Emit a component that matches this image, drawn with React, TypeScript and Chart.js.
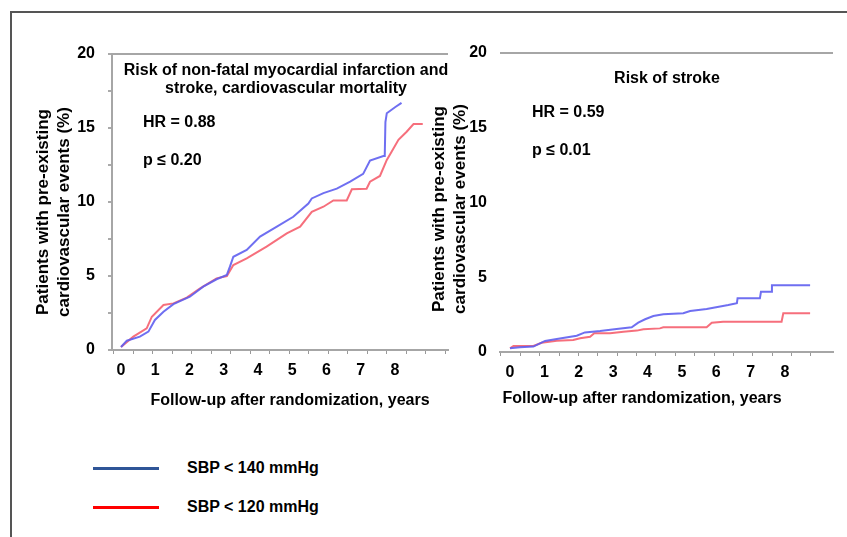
import React, { useEffect, useRef } from "react";
import { Chart, registerables } from "chart.js";

Chart.register(...registerables);

// ---------- data (years of follow-up, % patients with events) ----------
const LEFT_BLUE_X = [0, 0.17, 0.55, 0.8, 0.99, 1.24, 1.53, 2.01, 2.4, 2.79, 3.09, 3.18, 3.28, 3.67, 4.06, 4.55, 5.03, 5.47, 5.57, 5.91, 6.3, 6.69, 7.07, 7.27, 7.66, 7.7, 7.72, 7.76, 8.0, 8.19];
const LEFT_BLUE_Y = [0.2, 0.63, 0.9, 1.24, 2.03, 2.59, 3.1, 3.6, 4.28, 4.78, 5.07, 5.63, 6.3, 6.76, 7.66, 8.33, 9.0, 9.9, 10.24, 10.6, 10.9, 11.37, 11.9, 12.8, 13.1, 13.1, 15.4, 16.0, 16.4, 16.7];

const LEFT_RED_X = [0, 0.36, 0.75, 0.9, 1.24, 1.53, 1.92, 2.31, 2.79, 3.09, 3.28, 3.67, 4.25, 4.84, 5.23, 5.57, 5.91, 6.2, 6.59, 6.74, 7.17, 7.27, 7.56, 7.76, 7.9, 8.1, 8.34, 8.54, 8.81];
const LEFT_RED_Y = [0.2, 0.9, 1.46, 2.25, 3.04, 3.15, 3.54, 4.17, 4.84, 5.0, 5.74, 6.19, 6.98, 7.88, 8.33, 9.34, 9.68, 10.1, 10.1, 10.86, 10.9, 11.37, 11.76, 12.84, 13.4, 14.2, 14.75, 15.27, 15.27];

const RIGHT_BLUE_X = [0, 0.29, 0.68, 1.02, 1.36, 1.94, 2.18, 2.62, 3.1, 3.54, 3.73, 3.93, 4.17, 4.46, 5.04, 5.24, 5.72, 6.35, 6.6, 6.62, 7.27, 7.3, 7.6, 7.62, 8.73];
const RIGHT_BLUE_Y = [0.25, 0.31, 0.36, 0.74, 0.87, 1.09, 1.31, 1.4, 1.54, 1.65, 1.96, 2.19, 2.41, 2.52, 2.59, 2.74, 2.88, 3.14, 3.26, 3.59, 3.59, 4.03, 4.03, 4.46, 4.46];

const RIGHT_RED_X = [0, 0.1, 0.68, 0.92, 1.36, 1.84, 2.04, 2.33, 2.45, 2.91, 3.3, 3.69, 3.88, 4.36, 4.46, 5.72, 5.87, 6.2, 7.9, 7.95, 8.73];
const RIGHT_RED_Y = [0.25, 0.4, 0.4, 0.62, 0.76, 0.8, 0.92, 1.02, 1.25, 1.25, 1.36, 1.43, 1.52, 1.58, 1.65, 1.65, 1.96, 2.03, 2.03, 2.59, 2.59];

const X_LABELS = [0, 1, 2, 3, 4, 5, 6, 7, 8];
const Y_TICKS_LEFT = [0, 2.5, 5, 7.5, 10, 12.5, 15, 17.5, 20];
const Y_TICKS_RIGHT = [0, 5, 10, 15, 20];
const TICK_MARKS_LEFT = [0, 1, 2, 3, 4, 5, 6, 7, 8, 9, 10, 11, 12, 13, 14, 15, 16, 17];
const TICK_MARKS_RIGHT = [0, 1, 2, 3, 4, 5, 6, 7, 8, 9, 10, 11, 12, 13, 14, 15, 16];

const SERIES_NAMES = ["SBP < 140 mmHg", "SBP < 120 mmHg"];

const FONT_FAMILY = "'Liberation Sans', Arial, Helvetica, sans-serif";
const AXIS_GRAY = "#a6a6a6";
const BLUE_CURVE = "rgba(95, 95, 240, 0.9)";
const RED_CURVE = "rgba(245, 95, 110, 0.9)";

const pts = (xs: number[], ys: number[]) => xs.map((x, i) => ({ x, y: ys[i] }));

type Cfg = {
  blue: { x: number; y: number }[];
  red: { x: number; y: number }[];
  xMin: number;
  xMax: number;
  tMin: number;
  tMax: number;
  tickMarks: number[];
  yTicks: number[];
  yAxisLine: boolean;
  yWidth: number;
  yPad: number;
  padding: { left: number; right: number; top: number; bottom: number };
};

function makeChart(canvas: HTMLCanvasElement, c: Cfg) {
  const font = { family: FONT_FAMILY, size: 16, weight: "bold" as const };
  return new Chart(canvas, {
    type: "line",
    data: {
      datasets: [
        {
          label: SERIES_NAMES[0],
          data: c.blue,
          borderColor: BLUE_CURVE,
          borderWidth: 2,
          pointRadius: 0,
          tension: 0,
          fill: false,
          xAxisID: "x",
          yAxisID: "y",
        },
        {
          label: SERIES_NAMES[1],
          data: c.red,
          borderColor: RED_CURVE,
          borderWidth: 2,
          pointRadius: 0,
          tension: 0,
          fill: false,
          xAxisID: "x",
          yAxisID: "y",
        },
      ],
    },
    options: {
      responsive: false,
      animation: false,
      layout: { padding: c.padding },
      plugins: { legend: { display: false }, tooltip: { enabled: false }, title: { display: false } },
      scales: {
        xt: {
          type: "linear",
          position: "bottom",
          weight: 0,
          min: c.tMin,
          max: c.tMax,
          afterBuildTicks: (ax: any) => {
            ax.ticks = c.tickMarks.map((v) => ({ value: v }));
          },
          ticks: { display: false },
          grid: { display: true, drawOnChartArea: false, drawTicks: true, tickLength: 4, tickColor: "#999", color: "#999", lineWidth: 1 },
          border: { display: true, color: AXIS_GRAY, width: 2 },
          afterFit: (s: any) => {
            s.height = 6;
          },
        },
        x: {
          type: "linear",
          position: "bottom",
          weight: 1,
          min: c.xMin,
          max: c.xMax,
          afterBuildTicks: (ax: any) => {
            ax.ticks = X_LABELS.map((v) => ({ value: v }));
          },
          ticks: { font, color: "#000", padding: 5, maxRotation: 0, autoSkip: false, callback: (v: any) => String(v) },
          grid: { display: false, drawTicks: false },
          border: { display: false },
          afterFit: (s: any) => {
            s.height = 30;
          },
        },
        y: {
          type: "linear",
          position: "left",
          min: 0,
          max: 20,
          afterBuildTicks: (ax: any) => {
            ax.ticks = c.yTicks.map((v) => ({ value: v }));
          },
          ticks: {
            font,
            color: "#000",
            padding: c.yPad,
            callback: (v: any) => (Number(v) % 5 === 0 ? String(v) : ""),
          },
          grid: {
            display: true,
            drawOnChartArea: true,
            drawTicks: c.yAxisLine,
            tickLength: 4,
            tickColor: "#aaa",
            lineWidth: 2,
            color: (ctx: any) => (ctx.tick && ctx.tick.value === 20 ? AXIS_GRAY : "rgba(0,0,0,0)"),
          },
          border: { display: c.yAxisLine, color: AXIS_GRAY, width: 2 },
          afterFit: (s: any) => {
            s.width = c.yWidth;
          },
        },
      },
    } as any,
  });
}

const abs = (extra: React.CSSProperties): React.CSSProperties => ({
  position: "absolute",
  fontFamily: FONT_FAMILY,
  fontWeight: "bold",
  color: "#000",
  whiteSpace: "nowrap",
  ...extra,
});

export default function App() {
  const leftRef = useRef<HTMLCanvasElement>(null);
  const rightRef = useRef<HTMLCanvasElement>(null);

  useEffect(() => {
    const left = makeChart(leftRef.current!, {
      blue: pts(LEFT_BLUE_X, LEFT_BLUE_Y),
      red: pts(LEFT_RED_X, LEFT_RED_Y),
      xMin: -0.263,
      xMax: 9.547,
      tMin: -0.1,
      tMax: 17.15,
      tickMarks: TICK_MARKS_LEFT,
      yTicks: Y_TICKS_LEFT,
      yAxisLine: true,
      yWidth: 50,
      yPad: 13,
      padding: { left: 62, right: 12, top: 54, bottom: 14 },
    });
    const right = makeChart(rightRef.current!, {
      blue: pts(RIGHT_BLUE_X, RIGHT_BLUE_Y),
      red: pts(RIGHT_RED_X, RIGHT_RED_Y),
      xMin: -0.291,
      xMax: 9.396,
      tMin: -0.05,
      tMax: 17.14,
      tickMarks: TICK_MARKS_RIGHT,
      yTicks: Y_TICKS_RIGHT,
      yAxisLine: false,
      yWidth: 40,
      yPad: 13,
      padding: { left: 40, right: 14, top: 53, bottom: 12 },
    });
    return () => {
      left.destroy();
      right.destroy();
    };
  }, []);

  return (
    <div style={{ position: "fixed", left: 0, top: 0, width: 847, height: 537, background: "#fff", overflow: "hidden" }}>
      <div style={{ position: "absolute", left: 10, top: 11, width: 1000, height: 1000, borderTop: "2px solid #555", borderLeft: "2px solid #555" }} />
      <canvas ref={leftRef} width={460} height={400} style={{ position: "absolute", left: 0, top: 0, width: 460, height: 400 }} />
      <canvas ref={rightRef} width={427} height={400} style={{ position: "absolute", left: 420, top: 0, width: 427, height: 400 }} />

      {/* left panel annotations */}
      <div style={abs({ left: 286, top: 79, transform: "translate(-50%,-50%)", fontSize: 16, lineHeight: "18px", textAlign: "center" })}>
        Risk of non-fatal myocardial infarction and
        <br />
        stroke, cardiovascular mortality
      </div>
      <div style={abs({ left: 143, top: 122, transform: "translateY(-50%)", fontSize: 16, lineHeight: "18px" })}>HR = 0.88</div>
      <div style={abs({ left: 143, top: 160, transform: "translateY(-50%)", fontSize: 16, lineHeight: "18px" })}>p ≤ 0.20</div>
      <div style={abs({ left: 52.5, top: 212, width: 300, transform: "translate(-50%,-50%) rotate(-90deg)", fontSize: 17, lineHeight: "21px", textAlign: "center" })}>
        Patients with pre-existing
        <br />
        cardiovascular events (%)
      </div>
      <div style={abs({ left: 290, top: 400, transform: "translate(-50%,-50%)", fontSize: 16, lineHeight: "18px" })}>
        Follow-up after randomization, years
      </div>

      {/* right panel annotations */}
      <div style={abs({ left: 667, top: 78, transform: "translate(-50%,-50%)", fontSize: 16, lineHeight: "18px" })}>Risk of stroke</div>
      <div style={abs({ left: 532, top: 112, transform: "translateY(-50%)", fontSize: 16, lineHeight: "18px" })}>HR = 0.59</div>
      <div style={abs({ left: 532, top: 150, transform: "translateY(-50%)", fontSize: 16, lineHeight: "18px" })}>p ≤ 0.01</div>
      <div style={abs({ left: 448.5, top: 209, width: 300, transform: "translate(-50%,-50%) rotate(-90deg)", fontSize: 17, lineHeight: "21px", textAlign: "center" })}>
        Patients with pre-existing
        <br />
        cardiovascular events (%)
      </div>
      <div style={abs({ left: 642, top: 398, transform: "translate(-50%,-50%)", fontSize: 16, lineHeight: "18px" })}>
        Follow-up after randomization, years
      </div>

      {/* legend */}
      <div style={{ position: "absolute", left: 93, top: 467, width: 66, height: 3, background: "#2f5597" }} />
      <div style={abs({ left: 187, top: 468, transform: "translateY(-50%)", fontSize: 16, lineHeight: "18px" })}>{SERIES_NAMES[0]}</div>
      <div style={{ position: "absolute", left: 93, top: 506, width: 66, height: 3, background: "#ff0000" }} />
      <div style={abs({ left: 187, top: 507, transform: "translateY(-50%)", fontSize: 16, lineHeight: "18px" })}>{SERIES_NAMES[1]}</div>
    </div>
  );
}
